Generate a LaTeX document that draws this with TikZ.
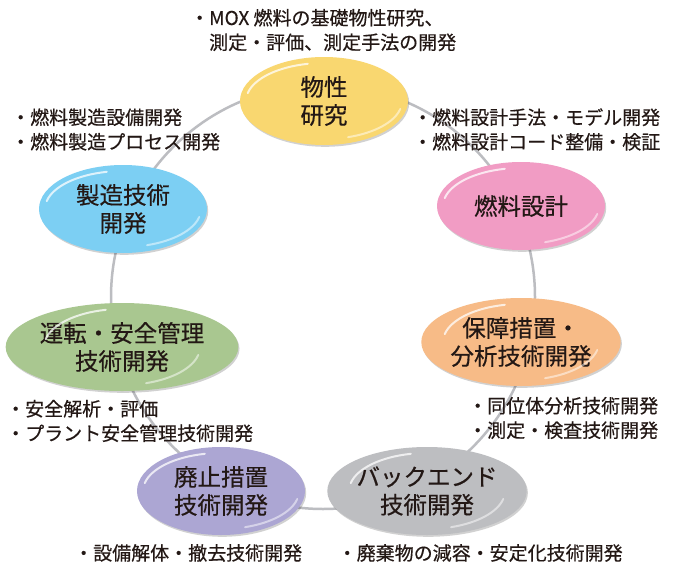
\documentclass[tikz,border=0pt]{standalone}
\usepackage{fontspec}
\setmainfont{Noto Sans CJK JP}
\newfontfamily\medfont{Noto Sans CJK JP}[FakeBold=0.45]
\usetikzlibrary{shapes.geometric,shadows}
\definecolor{ink}{RGB}{35,24,21}
\definecolor{ringgray}{RGB}{188,189,193}
\definecolor{cyellow}{RGB}{249,215,112}
\definecolor{cpink}{RGB}{241,156,196}
\definecolor{corange}{RGB}{247,187,135}
\definecolor{cgray}{RGB}{189,190,193}
\definecolor{clav}{RGB}{172,166,211}
\definecolor{cgreen}{RGB}{169,199,144}
\definecolor{cblue}{RGB}{124,207,243}
\newcommand\glossy[1]{%
  \draw[hl] (#1.center) ++(168:78pt and 38pt) arc[start angle=168, end angle=102, x radius=78pt, y radius=38pt];
  \draw[hl, opacity=.5] (#1.center) ++(-12:78pt and 38pt) arc[start angle=-12, end angle=-72, x radius=78pt, y radius=38pt];
}
\begin{document}
\begin{tikzpicture}[x=1pt,y=-1pt,
  bubble/.style={ellipse, minimum width=168pt, minimum height=88pt, inner sep=0pt,
    align=center, text=ink, font=\medfont\fontsize{23.5}{28}\selectfont,
    drop shadow={shadow xshift=1.2pt, shadow yshift=-1.8pt, opacity=.18, fill=black}},
  note/.style={align=left, anchor=west, inner sep=0pt, text=ink,
    font=\medfont\fontsize{19}{24.5}\selectfont},
  ring/.style={draw=ringgray, line width=2.5pt},
  hl/.style={white, line width=2pt, line cap=round, opacity=.75},
]
\useasboundingbox[fill=white] (0,0) rectangle (674,565);
\coordinate (ringc) at (323,297);
\draw[ring] (ringc) circle[radius=212pt];

\node[bubble, fill=cyellow] (phys) at (324,101) {物性\\研究};
\node[bubble, fill=cpink]   (fuel) at (521,206) {燃料設計};
\node[bubble, fill=corange] (safe) at (521,342) {保障措置・\\分析技術開発};
\node[bubble, fill=cgray]   (back) at (427,491) {バックエンド\\技術開発};
\node[bubble, fill=clav]    (deco) at (221,491) {廃止措置\\技術開発};
\node[bubble, fill=cgreen]  (oper) at (122,347) {運転・安全管理\\技術開発};
\node[bubble, fill=cblue]   (manu) at (123,209) {製造技術\\開発};

\glossy{phys}\glossy{fuel}\glossy{safe}\glossy{back}\glossy{deco}\glossy{oper}\glossy{manu}

\node[note] (tphys) at (190,30) {・MOX 燃料の基礎物性研究、\\\hspace*{1em}測定・評価、測定手法の開発};
\node[note] (tfuel) at (413,129.5) {・燃料設計手法・モデル開発\\・燃料設計コード整備・検証};
\node[note] (tmanu) at (11,129.5) {・燃料製造設備開発\\・燃料製造プロセス開発};
\node[note] (tsafe) at (468,418) {・同位体分析技術開発\\・測定・検査技術開発};
\node[note] (toper) at (6,421) {・安全解析・評価\\・プラント安全管理技術開発};
\node[note] (tdeco) at (74,553) {・設備解体・撤去技術開発};
\node[note] (tback) at (337.5,553) {・廃棄物の減容・安定化技術開発};
\end{tikzpicture}
\end{document}
